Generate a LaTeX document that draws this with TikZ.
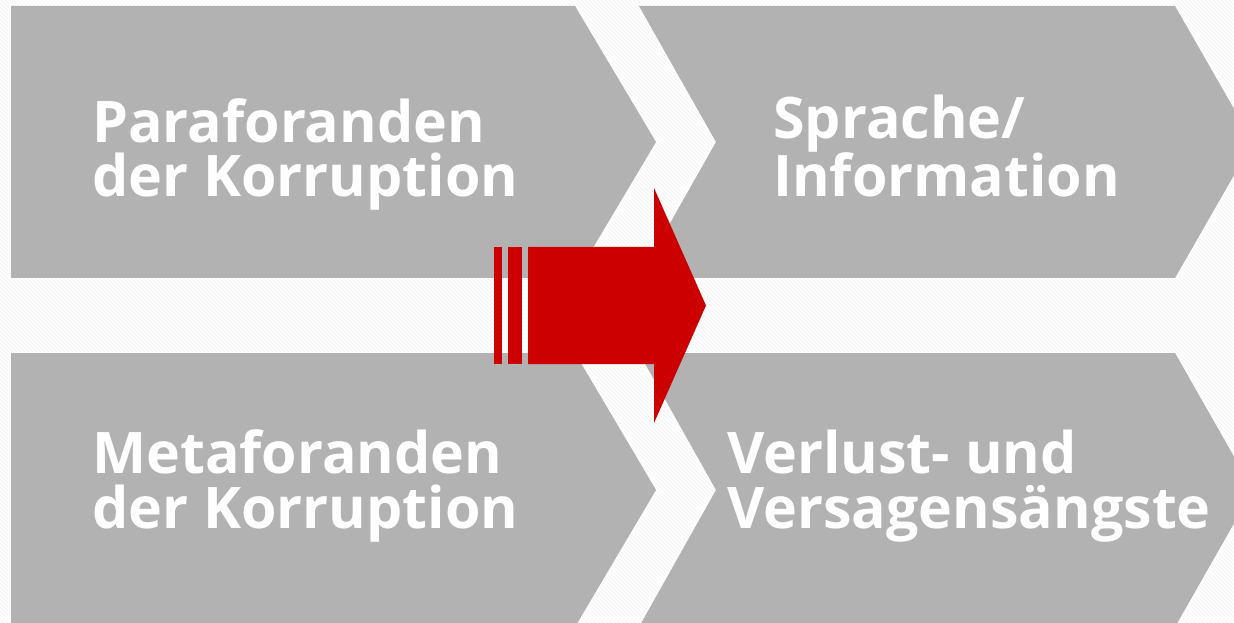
\documentclass[tikz,border=0pt]{standalone}
\usepackage{fontspec}
\setmainfont{Open Sans}
\usetikzlibrary{patterns}
\definecolor{chevgray}{HTML}{B2B2B2}
\definecolor{arrowred}{HTML}{CC0000}
\tikzset{
        chev/.style={fill=chevgray, draw=none},
        chevtext/.style={text=white, font=\fontsize{43}{41}\selectfont\bfseries, align=left, inner sep=0pt, anchor=base west},
        redpart/.style={fill=arrowred, draw=none},
}

\begin{document}
\begin{tikzpicture}[x=0.75pt, y=-0.75pt]
        \useasboundingbox (0,0) rectangle (1234,623);
        \clip (0,0) rectangle (1234,623);
        \fill[white] (0,0) rectangle (1234,623);
        \fill[pattern=north west lines, pattern color=black!4] (0,0) rectangle (1234,623);

        % chevrons
        \fill[chev] (11,6) -- (575,6) -- (656,142) -- (575,278) -- (11,278) -- cycle;
        \fill[chev] (639,6) -- (1175,6) -- (1253,142) -- (1175,278) -- (639,278) -- (716,142) -- cycle;
        \fill[chev] (11,353) -- (575,353) -- (656,490) -- (575,627) -- (11,627) -- cycle;
        \fill[chev] (639,353) -- (1175,353) -- (1253,490) -- (1175,627) -- (639,627) -- (716,490) -- cycle;

        \node (para) [chevtext] at (92,197) {Paraforanden\\der Korruption};
        \node (info) [chevtext] at (773,197) {Sprache/\\Information};
        \node (meta) [chevtext] at (92,528) {Metaforanden\\der Korruption};
        \node (angst) [chevtext] at (727,528) {Verlust- und\\Versagensängste};

        % red arrow
        \fill[redpart] (494,247) rectangle (502,364);
        \fill[redpart] (508,247) rectangle (522,364);
        \fill[redpart] (528,247) -- (654,247) -- (654,188) -- (706,305.5) -- (654,423) -- (654,364) -- (528,364) -- cycle;
\end{tikzpicture}
\end{document}
